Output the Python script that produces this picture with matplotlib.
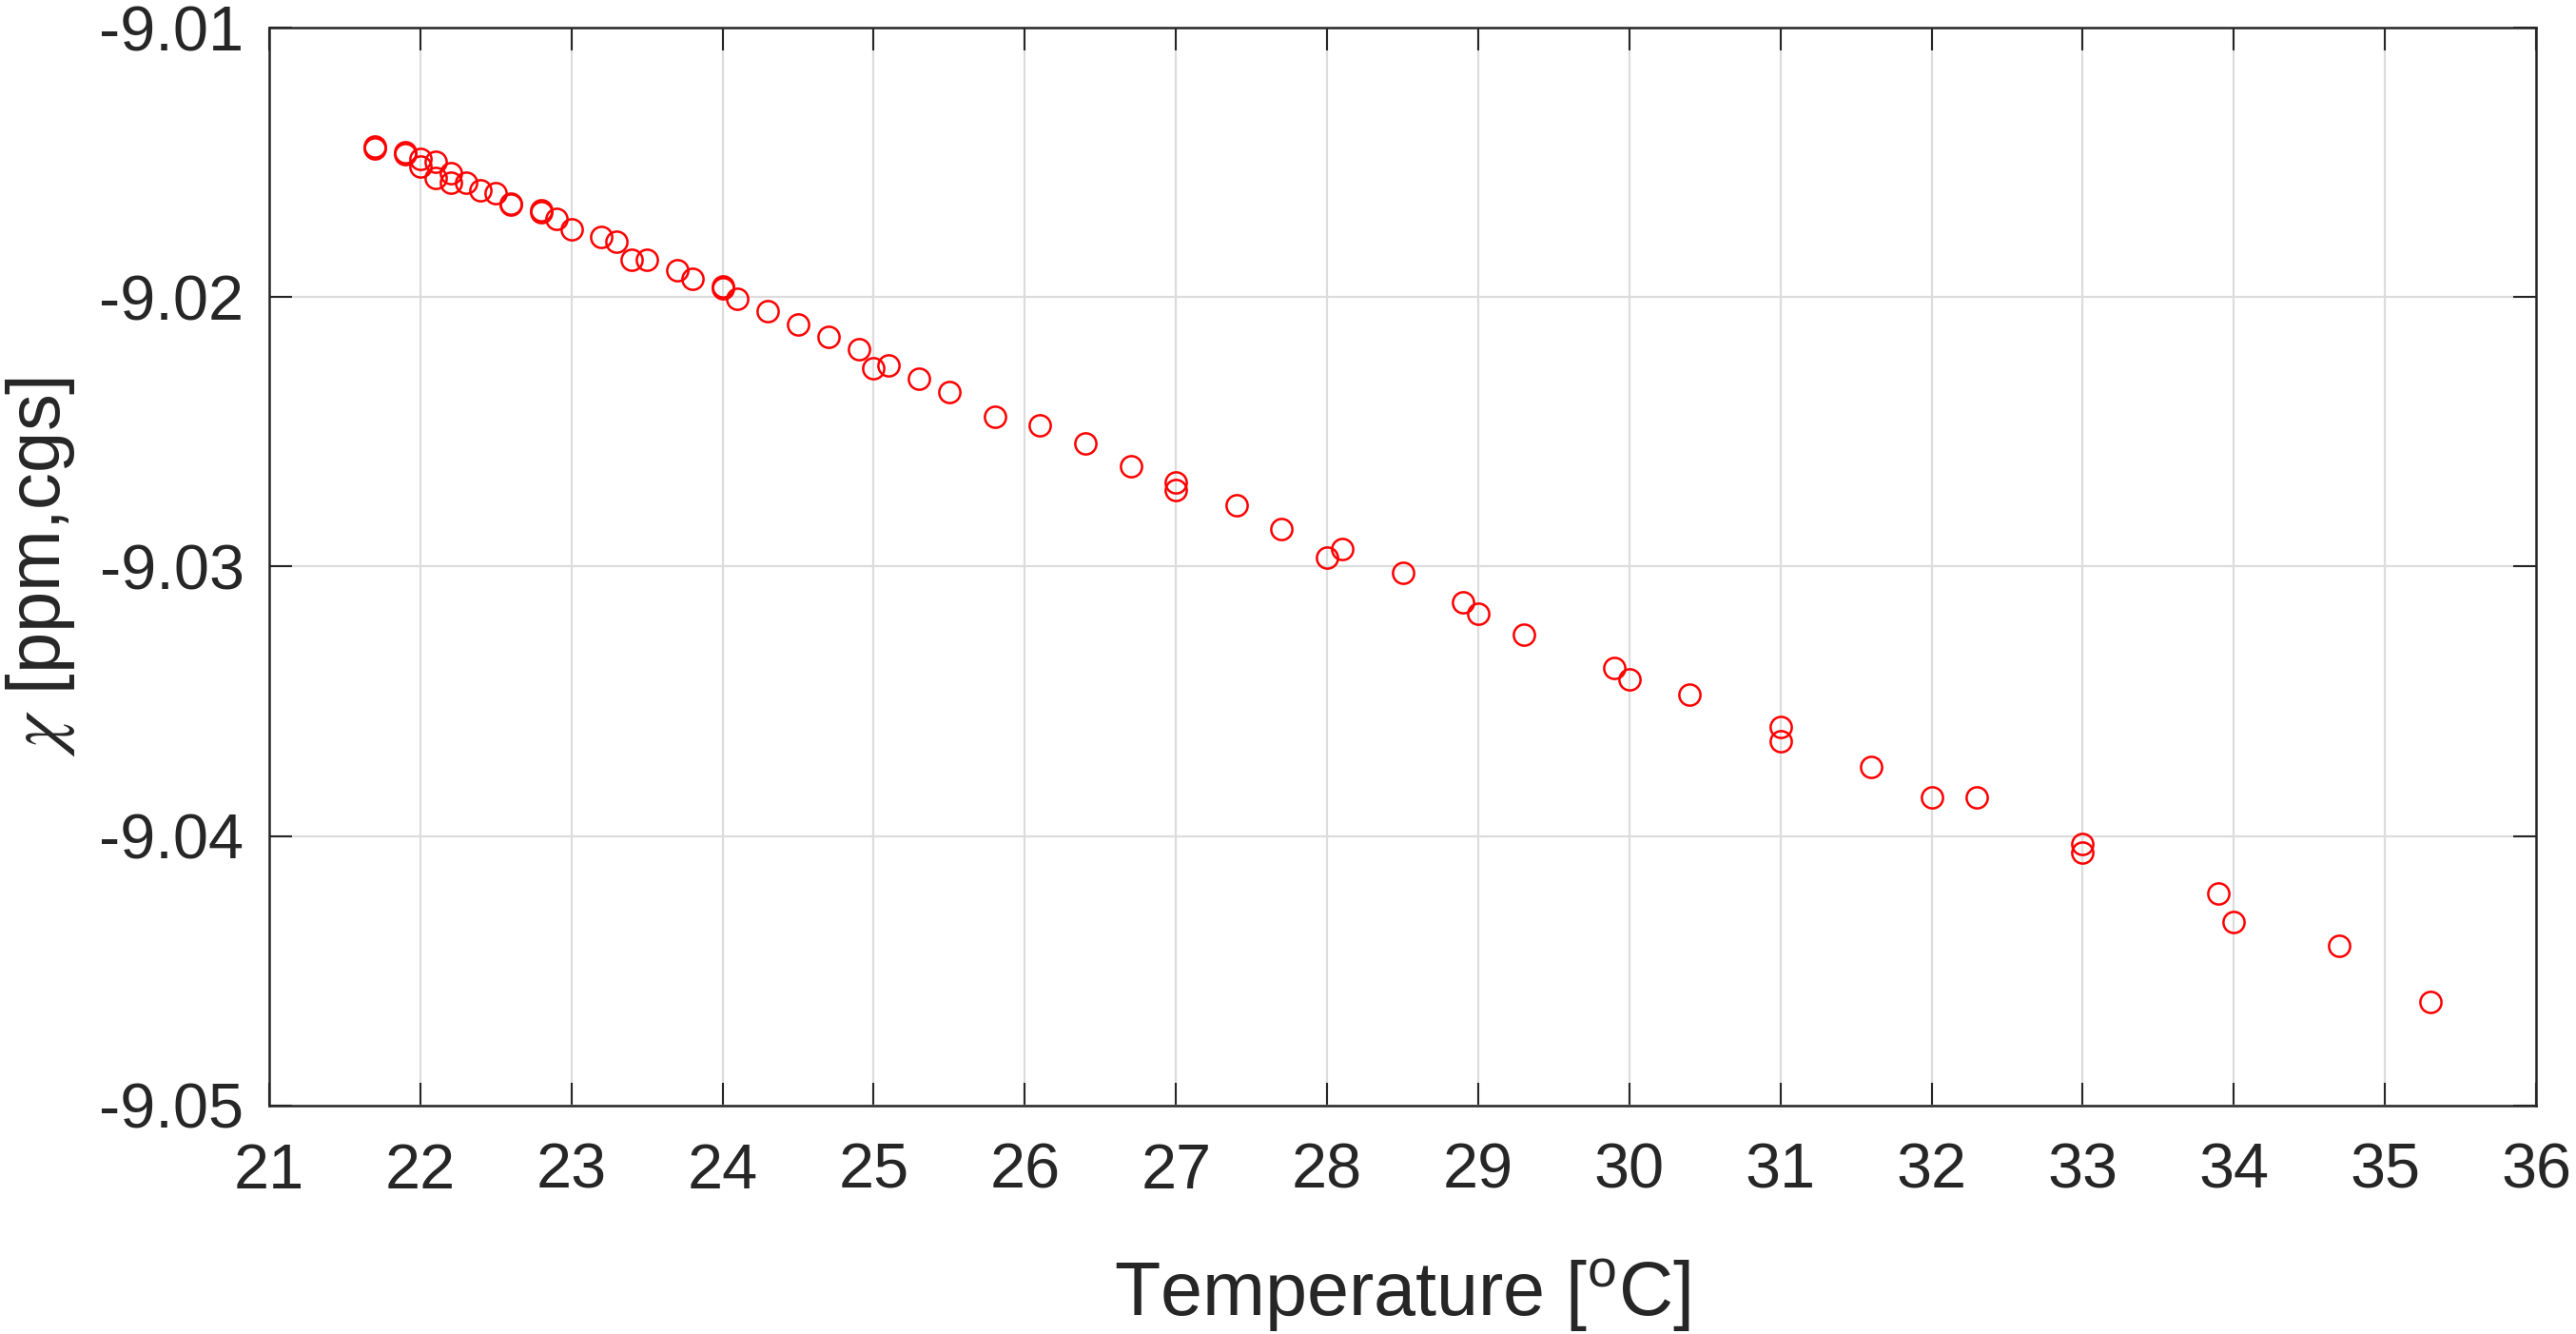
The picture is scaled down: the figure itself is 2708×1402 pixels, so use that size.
import matplotlib
matplotlib.use("Agg")
import matplotlib.pyplot as plt

# measured temperature [C] and susceptibility chi [ppm, cgs]
temperature = [21.7, 21.7, 21.9, 21.9, 22.0, 22.0, 22.1, 22.1, 22.2, 22.2,
               22.3, 22.4, 22.5, 22.6, 22.6, 22.8, 22.8, 22.9, 23.0, 23.2,
               23.3, 23.4, 23.5, 23.7, 23.8, 24.0, 24.0, 24.1, 24.3, 24.5,
               24.7, 24.9, 25.0, 25.1, 25.3, 25.5, 25.8, 26.1, 26.4, 26.7,
               27.0, 27.0, 27.4, 27.7, 28.0, 28.1, 28.5, 28.9, 29.0, 29.3,
               29.9, 30.0, 30.4, 31.0, 31.0, 31.6, 32.0, 32.3, 33.0, 33.0,
               33.9, 34.0, 34.7, 35.3]
chi = [-9.01442, -9.01448, -9.01463, -9.01469, -9.01487, -9.01515, -9.01498, -9.01557, -9.01540, -9.01575,
       -9.01575, -9.01604, -9.01614, -9.01652, -9.01658, -9.01678, -9.01684, -9.01710, -9.01748, -9.01777,
       -9.01795, -9.01862, -9.01860, -9.01900, -9.01932, -9.01960, -9.01966, -9.02006, -9.02052, -9.02101,
       -9.02147, -9.02195, -9.02264, -9.02253, -9.02302, -9.02352, -9.02444, -9.02476, -9.02543, -9.02627,
       -9.02688, -9.02716, -9.02772, -9.02860, -9.02966, -9.02935, -9.03023, -9.03132, -9.03175, -9.03252,
       -9.03376, -9.03418, -9.03475, -9.03595, -9.03648, -9.03743, -9.03856, -9.03856, -9.04029, -9.04061,
       -9.04213, -9.04319, -9.04407, -9.04615]

xticks = list(range(21, 37))
yticks = [-9.01, -9.02, -9.03, -9.04, -9.05]
ytick_labels = ["-9.01", "-9.02", "-9.03", "-9.04", "-9.05"]

plt.rcParams['font.family'] = ['Liberation Sans', 'DejaVu Sans']
plt.rcParams['mathtext.fontset'] = 'custom'
plt.rcParams['mathtext.rm'] = 'Liberation Sans'
plt.rcParams['axes.unicode_minus'] = False

dark = '#262626'
fig = plt.figure(figsize=(27.08, 14.02), dpi=100)
ax = fig.add_axes([0.1045, 0.1712, 0.88, 0.8081])

ax.plot(temperature, chi, 'o', mfc='none', mec='red', ms=16, mew=1.8, zorder=3)

ax.set_xlim(21, 36)
ax.set_ylim(-9.05, -9.01)
ax.set_xticks(xticks)
ax.set_yticks(yticks)
ax.set_yticklabels(ytick_labels)

ax.grid(True, color='#dcdcdc', lw=1.6)
ax.set_axisbelow(True)
ax.tick_params(direction='in', length=17, width=1.5, top=True, right=True,
               labelsize=48, colors=dark)
ax.tick_params(axis='x', pad=28)
ax.tick_params(axis='y', pad=19)
for s in ax.spines.values():
    s.set_linewidth(1.8)
    s.set_color(dark)

ax.set_xlabel(r'Temperature [$^{\rm o}$C]', fontsize=57, color=dark, labelpad=42)
ylab = ax.set_ylabel(r'$\chi$ [ppm,cgs]', fontsize=56, color=dark, labelpad=17)
ylab.set_math_fontfamily('stix')

fig.savefig('out.png', dpi=100)
